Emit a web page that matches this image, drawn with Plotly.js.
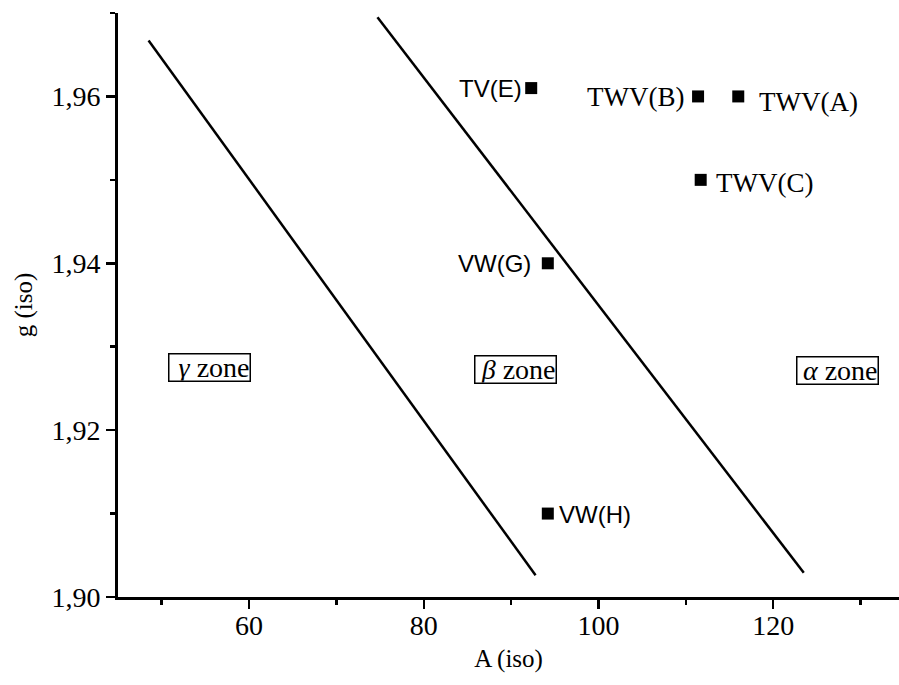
<!DOCTYPE html>
<html>
<head>
<meta charset="utf-8">
<script src="https://cdn.plot.ly/plotly-3.0.1.min.js"></script>
<style>html,body{margin:0;padding:0;background:#fff;}#chart{width:899px;height:685px;}</style>
</head>
<body>
<div id="chart"></div>
<script>
// ---- data ----
const pointNames = ['TV(E)', 'TWV(B)', 'TWV(A)', 'TWV(C)', 'VW(G)', 'VW(H)'];
const pointA = [92.3, 111.4, 116.0, 111.7, 94.2, 94.2];
const pointG = [1.961, 1.960, 1.960, 1.950, 1.940, 1.910];

const gammaBetaA = [48.5, 92.8];
const gammaBetaG = [1.9667, 1.9026];
const betaAlphaA = [74.7, 123.5];
const betaAlphaG = [1.9695, 1.9029];

const zoneNames = ['<i>γ</i> zone', '<i>β</i> zone', '<i>α</i> zone'];
const zoneA = [55.5, 90.5, 127.4];
const zoneG = [1.9275, 1.9273, 1.9272];

const xTitle = 'A (iso)';
const yTitle = 'g (iso)';

// ---- styles (label placement) ----
const SERIF = 'Liberation Serif, Times New Roman, serif';
const SANS = 'Liberation Sans, Arial, sans-serif';
const labelStyle = [
  {font: SANS,  size: 24, side: 'left',  dx: -8,  dy: 0},
  {font: SERIF, size: 27, side: 'left',  dx: -13, dy: -1},
  {font: SERIF, size: 27, side: 'right', dx: 20,  dy: -6},
  {font: SERIF, size: 27, side: 'right', dx: 14,  dy: -3},
  {font: SANS,  size: 24, side: 'left',  dx: -16, dy: 0},
  {font: SANS,  size: 24, side: 'right', dx: 10,  dy: -1}
];

const traces = [
  {x: gammaBetaA, y: gammaBetaG, mode: 'lines', line: {color: '#000', width: 2.5}, hoverinfo: 'skip'},
  {x: betaAlphaA, y: betaAlphaG, mode: 'lines', line: {color: '#000', width: 2.5}, hoverinfo: 'skip'},
  {x: pointA, y: pointG, mode: 'markers', marker: {symbol: 'square', size: 12, color: '#000'}, text: pointNames}
];

const annotations = [];
pointNames.forEach((n, i) => {
  const s = labelStyle[i];
  annotations.push({
    x: pointA[i], y: pointG[i], xref: 'x', yref: 'y', text: n, showarrow: false,
    xanchor: s.side === 'left' ? 'right' : 'left', yanchor: 'middle',
    xshift: s.dx, yshift: s.dy, borderpad: 0,
    font: {family: s.font, size: s.size, color: '#000'}
  });
});
zoneNames.forEach((n, i) => {
  annotations.push({
    x: zoneA[i], y: zoneG[i], xref: 'x', yref: 'y', text: n, showarrow: false,
    xanchor: 'center', yanchor: 'middle', borderpad: 0, bordercolor: '#000', borderwidth: 1.5,
    width: 80, height: 26, align: 'right',
    font: {family: SERIF, size: 28, color: '#000'}
  });
});

const axisCommon = {
  showline: true, linecolor: '#000', linewidth: 3, mirror: false,
  ticks: 'outside', ticklen: 9, tickwidth: 2.5, tickcolor: '#000',
  showgrid: false, zeroline: false,
  tickfont: {family: SERIF, size: 28, color: '#000'}
};

const layout = {
  width: 899, height: 685,
  margin: {l: 118, r: 0, t: 13, b: 88},
  paper_bgcolor: '#fff', plot_bgcolor: '#fff',
  showlegend: false,
  separators: ',.',
  xaxis: Object.assign({}, axisCommon, {
    range: [45, 134.4], tick0: 0, dtick: 20, ticklabelstandoff: -8,
    minor: {dtick: 10, ticks: 'outside', ticklen: 5, tickwidth: 2.5, tickcolor: '#000'},
    title: {text: xTitle, font: {family: SERIF, size: 25, color: '#000'}, standoff: 10}
  }),
  yaxis: Object.assign({}, axisCommon, {
    range: [1.90, 1.97], tick0: 1.90, dtick: 0.02, tickformat: '.2f',
    minor: {dtick: 0.01, ticks: 'outside', ticklen: 5, tickwidth: 2.5, tickcolor: '#000'},
    title: {text: yTitle, font: {family: SERIF, size: 25, color: '#000'}, standoff: 12}
  }),
  annotations: annotations
};

Plotly.newPlot('chart', traces, layout, {displayModeBar: false, staticPlot: true});
</script>
</body>
</html>
